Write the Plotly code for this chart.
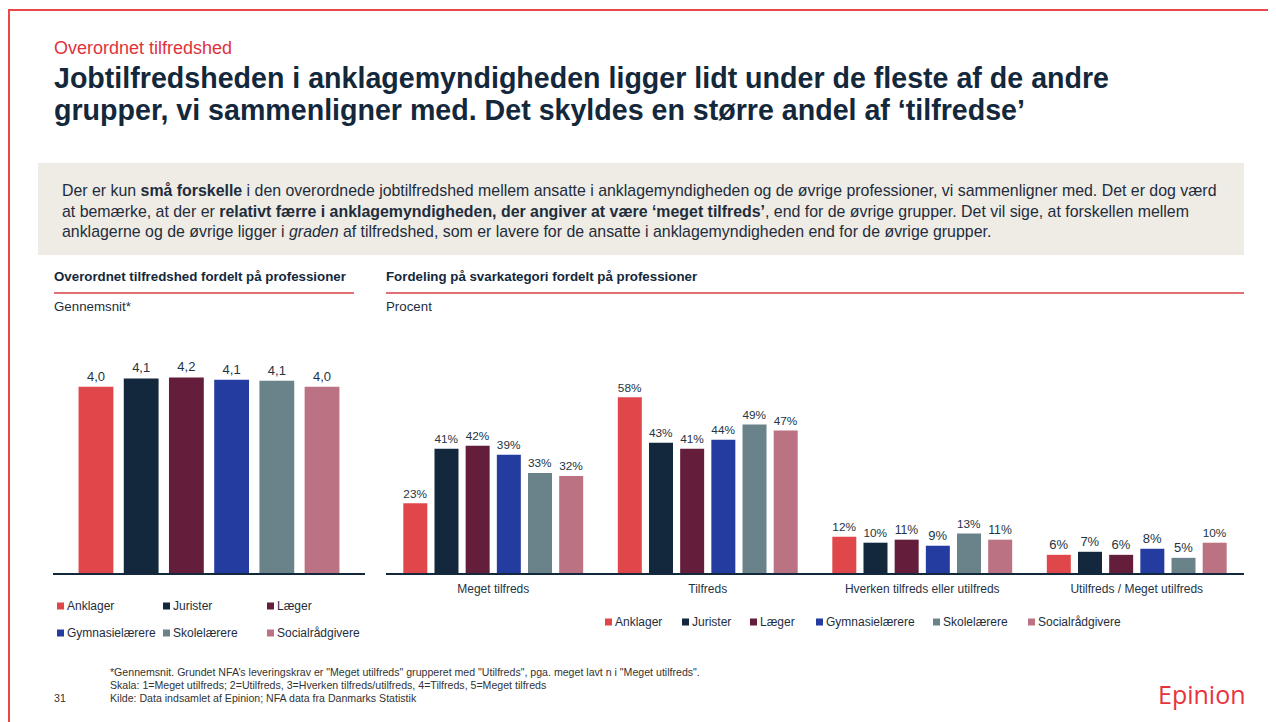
import plotly.graph_objects as go

# page body has an 8px margin; figure is sized/positioned so page coords match
OFF = 8
W, H = 1276 - OFF, 722 - OFF

# ---------------- data ----------------
professions = ["Anklager", "Jurister", "Læger", "Gymnasielærere", "Skolelærere", "Socialrådgivere"]
colors = ["#e0474a", "#13283c", "#641d3b", "#243ca0", "#6a838b", "#bb7384"]

avg_satisfaction = [3.96, 4.14, 4.16, 4.11, 4.09, 3.96]

answer_categories = ["Meget tilfreds", "Tilfreds", "Hverken tilfreds eller utilfreds", "Utilfreds / Meget utilfreds"]
pct_anklager = [23, 58, 12, 6]
pct_jurister = [41, 43, 10, 7]
pct_laeger = [42, 41, 11, 6]
pct_gymnasie = [39, 44, 9, 8]
pct_skole = [33, 49, 13, 5]
pct_social = [32, 47, 11, 10]
pct_series = [pct_anklager, pct_jurister, pct_laeger, pct_gymnasie, pct_skole, pct_social]

# ---------------- helpers (page pixel -> paper) ----------------
def X(px):
    return (px - OFF) / W

def Y(py):
    return 1 - (py - OFF) / H

FONT = "Liberation Sans, Arial, sans-serif"
DARK = "#14283c"
TXT = "#243444"

fig = go.Figure()

# left chart: one trace per profession
for name, col, v in zip(professions, colors, avg_satisfaction):
    fig.add_trace(go.Bar(
        x=[name], y=[v], name=name, marker=dict(color=col, line=dict(width=0)),
        width=0.77, offset=-0.385,
        text=[f"{v:.1f}".replace(".", ",")], textposition="outside",
        textfont=dict(size=13, color=TXT, family=FONT), cliponaxis=False,
        xaxis="x", yaxis="y", showlegend=False,
    ))

# right chart: grouped bars
for name, col, vals in zip(professions, colors, pct_series):
    fig.add_trace(go.Bar(
        x=answer_categories, y=vals, name=name, marker=dict(color=col, line=dict(width=0)),
        text=[f"{v}%" for v in vals], textposition="outside",
        textfont=dict(size=13, color=TXT, family=FONT), cliponaxis=False,
        xaxis="x2", yaxis="y2", showlegend=False,
    ))

base_y = 573
top_y = 330

layout = dict(
    width=W, height=H,
    margin=dict(l=0, r=0, t=0, b=0),
    paper_bgcolor="white", plot_bgcolor="rgba(0,0,0,0)",
    font=dict(family=FONT, color=TXT),
    barmode="group", bargap=0.128, bargroupgap=0.23,
    showlegend=False,
    xaxis=dict(domain=[X(53), X(365)], anchor="y", type="category",
               categoryorder="array", categoryarray=professions,
               range=[-0.95, 5.95], showline=True, linecolor=DARK, linewidth=1.5,
               showticklabels=False, ticks="", showgrid=False, zeroline=False, fixedrange=True),
    yaxis=dict(domain=[Y(base_y), Y(top_y)], anchor="x", range=[0, 5.17],
               visible=False, showgrid=False, zeroline=False),
    xaxis2=dict(domain=[X(386), X(1244)], anchor="y2", type="category",
                showline=True, linecolor=DARK, linewidth=1.5, ticks="",
                tickfont=dict(size=12, color=TXT, family=FONT), ticklabelstandoff=4,
                showgrid=False, zeroline=False),
    yaxis2=dict(domain=[Y(base_y), Y(top_y)], anchor="x2", range=[0, 80.2],
                visible=False, showgrid=False, zeroline=False),
)
fig.update_layout(**layout)

shapes = []
annotations = []

def text(x, y, s, size, color=TXT, bold=False, anchor="left", family=FONT):
    if bold:
        s = f"<b>{s}</b>"
    # annotations carry ~2px internal padding; compensate so text starts at x
    annotations.append(dict(x=X(x - 2), y=Y(y), xref="paper", yref="paper", text=s,
                            showarrow=False, xanchor=anchor, yanchor="middle",
                            font=dict(size=size, color=color, family=family)))

# page frame (red)
shapes.append(dict(type="line", xref="paper", yref="paper", x0=X(8), x1=X(1276), y0=Y(10), y1=Y(10),
                   line=dict(color="#e8474c", width=2)))
shapes.append(dict(type="line", xref="paper", yref="paper", x0=X(9), x1=X(9), y0=Y(10), y1=Y(722),
                   line=dict(color="#e8474c", width=2)))

# header
text(54, 48, "Overordnet tilfredshed", 18, color="#e0323c")
text(54, 78, "Jobtilfredsheden i anklagemyndigheden ligger lidt under de fleste af de andre", 28.6, color=DARK, bold=True)
text(54, 110, "grupper, vi sammenligner med. Det skyldes en større andel af ‘tilfredse’", 28.6, color=DARK, bold=True)

# summary box
shapes.append(dict(type="rect", xref="paper", yref="paper", x0=X(38), x1=X(1244), y0=Y(255), y1=Y(163),
                   fillcolor="#efebe5", line=dict(width=0), layer="below"))
text(62, 190, "Der er kun <b>små forskelle</b> i den overordnede jobtilfredshed mellem ansatte i anklagemyndigheden og de øvrige professioner, vi sammenligner med. Det er dog værd", 15.9, color="#1e2d3c")
text(62, 211, "at bemærke, at der er <b>relativt færre i anklagemyndigheden, der angiver at være ‘meget tilfreds’</b>, end for de øvrige grupper. Det vil sige, at forskellen mellem", 15.9, color="#1e2d3c")
text(62, 231, "anklagerne og de øvrige ligger i <i>graden</i> af tilfredshed, som er lavere for de ansatte i anklagemyndigheden end for de øvrige grupper.", 15.9, color="#1e2d3c")

# chart headers
text(54, 276, "Overordnet tilfredshed fordelt på professioner", 13.3, color=DARK, bold=True)
text(54, 306, "Gennemsnit*", 13.3, color="#1e2d3c")
shapes.append(dict(type="line", xref="paper", yref="paper", x0=X(54), x1=X(354), y0=Y(293), y1=Y(293),
                   line=dict(color="#e07074", width=2)))
text(386, 276, "Fordeling på svarkategori fordelt på professioner", 13.3, color=DARK, bold=True)
text(386, 306, "Procent", 13.3, color="#1e2d3c")
shapes.append(dict(type="line", xref="paper", yref="paper", x0=X(386), x1=X(1244), y0=Y(293), y1=Y(293),
                   line=dict(color="#e07074", width=2)))

# legends (manual, square markers)
def legend_item(x, y, name, col):
    shapes.append(dict(type="rect", xref="paper", yref="paper", x0=X(x), x1=X(x + 7), y0=Y(y + 3.5), y1=Y(y - 3.5),
                       fillcolor=col, line=dict(width=0)))
    text(x + 10, y, name, 12, color="#1e2d3c")

left_legend_x = [57, 163, 267]
left_legend_y = [606, 633]
for i, (name, col) in enumerate(zip(professions, colors)):
    legend_item(left_legend_x[i % 3], left_legend_y[i // 3], name, col)

right_legend_x = [605, 682, 750, 816, 933, 1028]
for i, (name, col) in enumerate(zip(professions, colors)):
    legend_item(right_legend_x[i], 622, name, col)

# footnotes
FN = 10.6
text(110, 672, "*Gennemsnit. Grundet NFA’s leveringskrav er \"Meget utilfreds\" grupperet med \"Utilfreds\", pga. meget lavt n i \"Meget utilfreds\".", FN, color="#333333")
text(110, 685, "Skala: 1=Meget utilfreds; 2=Utilfreds, 3=Hverken tilfreds/utilfreds, 4=Tilfreds, 5=Meget tilfreds", FN, color="#333333")
text(110, 698, "Kilde: Data indsamlet af Epinion; NFA data fra Danmarks Statistik", FN, color="#333333")
text(54, 698, "31", FN, color="#333333")
text(1158, 694, "Epinion", 25, color="#e8323c", family="Open Sans, sans-serif")

fig.update_layout(shapes=shapes, annotations=annotations)
fig.write_html("out.html")
